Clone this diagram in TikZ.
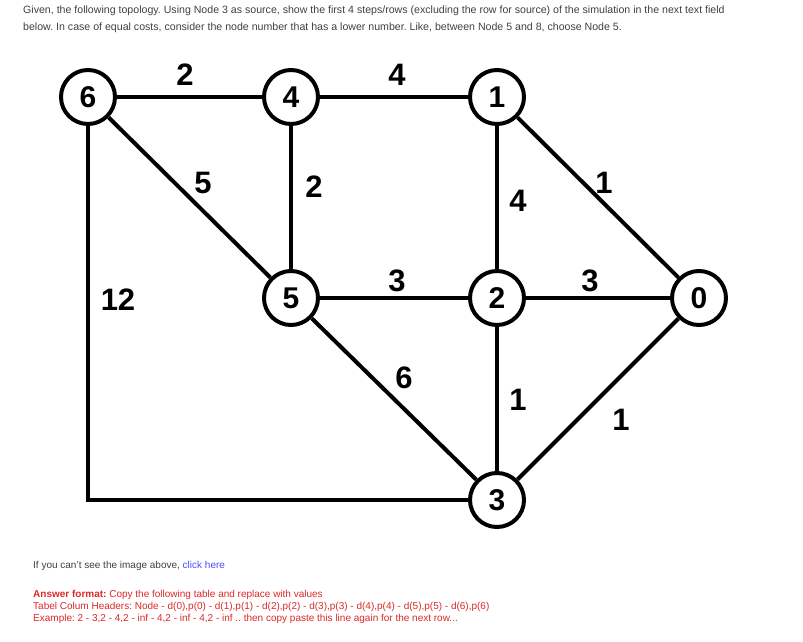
\documentclass[tikz,border=0pt]{standalone}
\usepackage{fontspec}
\setmainfont{Liberation Sans}
\begin{document}
\frenchspacing
\begin{tikzpicture}[x=1pt,y=-1pt,
  vert/.style={circle,draw,line width=4pt,minimum size=54pt,inner sep=0pt,font=\fontsize{30}{30}\selectfont\bfseries},
  wt/.style={font=\fontsize{31}{31}\selectfont\bfseries,inner sep=0pt},
  edge/.style={line width=4pt},
  txt/.style={anchor=west,inner sep=0pt,font=\fontsize{10.6}{12}\selectfont,text=black!75},
  red/.style={anchor=west,inner sep=0pt,font=\fontsize{10}{12}\selectfont,text={rgb,255:red,220;green,40;blue,40}}]
\useasboundingbox (0,0) rectangle (803,642);
\node[vert] (n6) at (88,97) {6};
\node[vert] (n4) at (291,97) {4};
\node[vert] (n1) at (497,97) {1};
\node[vert] (n5) at (291,298) {5};
\node[vert] (n2) at (497,298) {2};
\node[vert] (n0) at (699,298) {0};
\node[vert] (n3) at (497,500) {3};
\coordinate (c63) at (88,500);
\draw[edge] (n6)--(n4); \draw[edge] (n4)--(n1);
\draw[edge] (n6)--(n5); \draw[edge] (n4)--(n5);
\draw[edge] (n1)--(n2); \draw[edge] (n1)--(n0);
\draw[edge] (n5)--(n2); \draw[edge] (n2)--(n0);
\draw[edge] (n5)--(n3); \draw[edge] (n2)--(n3);
\draw[edge] (n0)--(n3);
\draw[edge] (n6)--(c63)--(n3);
\node[wt] at (185,75) {2};
\node[wt] at (397,75) {4};
\node[wt] at (203,183) {5};
\node[wt] at (314,187) {2};
\node[wt] at (604,183) {1};
\node[wt] at (518,201) {4};
\node[wt] at (118,300) {12};
\node[wt] at (397,281) {3};
\node[wt] at (590,281) {3};
\node[wt] at (404,378) {6};
\node[wt] at (518,400) {1};
\node[wt] at (621,420) {1};
\node[txt] (t1) at (23,11) {Given, the following topology. Using Node 3 as source, show the first 4 steps/rows (excluding the row for source) of the simulation in the next text field};
\node[txt] (t2) at (23,28) {below. In case of equal costs, consider the node number that has a lower number. Like, between Node 5 and 8, choose Node 5.};
\node[txt,font=\fontsize{10}{12}\selectfont] (t3) at (33,566) {If you can't see the image above, \textcolor{blue!70}{click here}};
\node[red] (t4) at (33,595) {\textbf{Answer format:} Copy the following table and replace with values};
\node[red] (t5) at (33,607) {Tabel Colum Headers: Node - d(0),p(0) - d(1),p(1) - d(2),p(2) - d(3),p(3) - d(4),p(4) - d(5),p(5) - d(6),p(6)};
\node[red] (t6) at (33,619) {Example: 2 - 3,2 - 4,2 - inf - 4,2 - inf - 4,2 - inf .. then copy paste this line again for the next row...};
\end{tikzpicture}
\end{document}
